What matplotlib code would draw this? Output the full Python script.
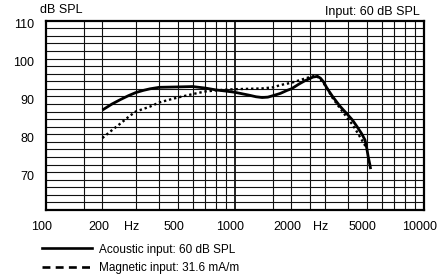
import numpy as np
import matplotlib
matplotlib.use("Agg")
import matplotlib.pyplot as plt
import matplotlib.transforms as mtransforms
from matplotlib.lines import Line2D

plt.rcParams['font.family'] = ['Liberation Sans Narrow', 'Liberation Sans', 'DejaVu Sans']

# acoustic input response (solid)
acoustic_hz = [200, 225, 250, 275, 300, 330, 357, 400, 500, 600, 700, 800, 900, 1000,
               1200, 1300, 1400, 1500, 1600, 1750, 1900, 2000, 2200, 2350, 2500, 2600,
               2750, 2850, 2950, 3100, 3300, 3600, 3900, 4200, 4450, 4700, 4900, 5000,
               5100, 5200, 5250]
acoustic_db = [86.4, 88.0, 89.2, 90.2, 91.0, 91.6, 92.0, 92.4, 92.5, 92.6, 92.2, 91.7, 91.4, 91.1,
               90.3, 89.9, 89.7, 89.8, 90.2, 90.8, 91.6, 92.0, 93.3, 94.1, 94.7, 95.1,
               95.3, 94.8, 93.9, 92.0, 90.0, 87.5, 85.6, 83.8, 82.0, 80.2, 78.5, 76.5,
               74.0, 72.0, 70.8]

# magnetic input response (dotted)
magnetic_hz = [200, 225, 250, 275, 300, 357, 400, 450, 500, 600, 700, 850, 1000, 1400,
               1600, 1750, 2000, 2250, 2500, 2700, 2850, 3050, 3300, 3600, 3900, 4200,
               4450, 4700, 4950]
magnetic_db = [79.0, 81.1, 82.9, 84.6, 86.0, 87.3, 88.4, 89.1, 89.7, 90.6, 91.3, 91.7, 91.9, 92.1,
               92.4, 93.0, 93.6, 94.4, 95.1, 95.5, 94.5, 92.6, 89.6, 87.0, 84.7, 82.6,
               80.6, 78.6, 76.7]

grid_hz = [160, 200, 300, 400, 500, 600, 700, 800, 900, 1000,
           1600, 2000, 2500, 3000, 4000, 5000, 6000, 7000, 8000, 9000]
xtick_pos = [100, 200, 300, 500, 1000, 2000, 3000, 5000, 10000]
xtick_lab = ['100', '200', 'Hz', '500', '1000', '2000', 'Hz', '5000', '10000']
ytick_pos = [70, 80, 90, 100, 110]

fig = plt.figure(figsize=(4.44, 2.74), dpi=100)
ax = fig.add_axes([0.1025, 0.2336, 0.8514, 0.691])
ax.set_xscale('log')
ax.set_xlim(100, 10000)
ax.set_ylim(60, 110)

for f in grid_hz:
    ax.axvline(f, color='#111111', lw=1.3 if f == 1000 else 0.8, zorder=1)
for d in np.arange(62, 110, 2):
    ax.axhline(d, color='#111111', lw=0.8, zorder=1)

ax.plot(acoustic_hz, acoustic_db, color='black', lw=2.0, zorder=3,
        solid_capstyle='butt', solid_joinstyle='round')
ax.plot(magnetic_hz, magnetic_db, color='black', lw=1.7, ls=(0, (1, 1.2)), zorder=3)

for s in ax.spines.values():
    s.set_linewidth(1.6)

ax.xaxis.set_minor_locator(matplotlib.ticker.NullLocator())
ax.set_xticks(xtick_pos)
ax.set_xticklabels(xtick_lab)
ax.set_yticks(ytick_pos)
ax.set_yticklabels([str(v) for v in ytick_pos])
ax.tick_params(axis='both', length=0, labelsize=9)
ax.tick_params(axis='x', pad=8)
ax.tick_params(axis='y', pad=8)

dx = mtransforms.ScaledTranslation(-4 / 100, 0, fig.dpi_scale_trans)
for lab in ax.get_xticklabels():
    lab.set_transform(lab.get_transform() + dx)
dy = mtransforms.ScaledTranslation(0, -3 / 100, fig.dpi_scale_trans)
for lab in ax.get_yticklabels():
    lab.set_transform(lab.get_transform() + dy)

fig.text(40 / 444, 1 - 10 / 274, 'dB SPL', ha='left', va='center', fontsize=9)
fig.text(420 / 444, 1 - 12.5 / 274, 'Input: 60 dB SPL', ha='right', va='center', fontsize=9)

handles = [Line2D([], [], color='black', lw=1.9),
           Line2D([], [], color='black', lw=1.9, ls=(0, (3, 2)))]
fig.legend(handles, ['Acoustic input: 60 dB SPL', 'Magnetic input: 31.6 mA/m'],
           loc='upper left', bbox_to_anchor=(38 / 444, 1 - 240 / 274),
           frameon=False, fontsize=8.5, handlelength=4.3, handletextpad=0.6,
           labelspacing=0.55, borderaxespad=0, borderpad=0.3)

fig.savefig('out.png', dpi=100)
